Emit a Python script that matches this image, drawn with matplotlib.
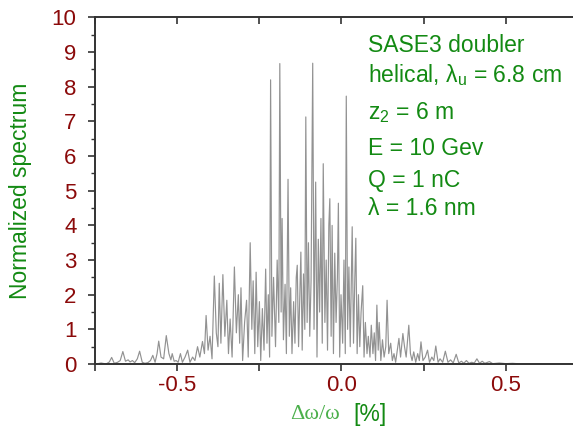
import matplotlib.pyplot as plt
from matplotlib.ticker import MultipleLocator, FuncFormatter
import numpy as np

plt.rcParams['font.family'] = ['Liberation Sans', 'DejaVu Sans']
plt.rcParams['mathtext.fontset'] = 'custom'
plt.rcParams['mathtext.rm'] = 'Liberation Sans'
plt.rcParams['mathtext.it'] = 'Liberation Sans:italic'

# spectrum (delta omega / omega in %, normalized spectrum)
#---------------------------------------------------------------------------
dw = [-0.745, -0.73, -0.715, -0.705, -0.698, -0.69, -0.68, -0.672, -0.664, -0.656,
      -0.648, -0.642, -0.635, -0.628, -0.62, -0.613, -0.605, -0.597, -0.588, -0.58,
      -0.573, -0.566, -0.56, -0.555, -0.548, -0.54, -0.532, -0.524, -0.518, -0.514,
      -0.508, -0.502, -0.496, -0.489, -0.483, -0.475, -0.467, -0.46, -0.452, -0.445,
      -0.437, -0.43, -0.422, -0.416, -0.411, -0.405, -0.399, -0.393, -0.386, -0.38,
      -0.375, -0.371, -0.366, -0.36, -0.354, -0.348, -0.343, -0.338, -0.332, -0.325,
      -0.319, -0.313, -0.309, -0.305, -0.3, -0.294, -0.288, -0.283, -0.277, -0.272,
      -0.268, -0.263, -0.259, -0.254, -0.249, -0.245, -0.24, -0.235, -0.23, -0.226,
      -0.222, -0.218, -0.215, -0.211, -0.206, -0.2, -0.195, -0.19, -0.187, -0.183,
      -0.18, -0.176, -0.171, -0.167, -0.162, -0.158, -0.154, -0.15, -0.145, -0.141,
      -0.137, -0.134, -0.13, -0.126, -0.123, -0.119, -0.115, -0.111, -0.108, -0.104,
      -0.1, -0.096, -0.092, -0.087, -0.083, -0.078, -0.074, -0.07, -0.066, -0.062,
      -0.058, -0.055, -0.05, -0.046, -0.042, -0.038, -0.035, -0.031, -0.028, -0.024,
      -0.02, -0.016, -0.012, -0.009, -0.005, -0.001, 0.004, 0.008, 0.012, 0.015,
      0.019, 0.023, 0.027, 0.033, 0.037, 0.041, 0.044, 0.048, 0.052, 0.056,
      0.06, 0.065, 0.069, 0.073, 0.078, 0.082, 0.087, 0.091, 0.096, 0.1,
      0.104, 0.108, 0.112, 0.115, 0.12, 0.125, 0.13, 0.135, 0.139, 0.144,
      0.15, 0.155, 0.16, 0.165, 0.17, 0.175, 0.18, 0.187, 0.192, 0.197,
      0.205, 0.21, 0.215, 0.22, 0.226, 0.232, 0.237, 0.242, 0.248, 0.255,
      0.262, 0.268, 0.275, 0.281, 0.287, 0.294, 0.3, 0.308, 0.316, 0.324,
      0.332, 0.34, 0.349, 0.357, 0.365, 0.372, 0.38, 0.388, 0.396, 0.404,
      0.412, 0.42, 0.428, 0.436, 0.45, 0.46, 0.48, 0.5, 0.52, 0.55,
      0.6, 0.65, 0.7]
spec = [0.0, 0.03, 0.0, 0.06, 0.19, 0.02, 0.05, 0.1, 0.36, 0.08,
        0.12, 0.06, 0.1, 0.04, 0.15, 0.37, 0.05, 0.02, 0.04, 0.1,
        0.25, 0.05, 0.3, 0.66, 0.2, 0.15, 0.82, 0.3, 0.12, 0.3,
        0.08, 0.1, 0.05, 0.3, 0.05, 0.2, 0.4, 0.05, 0.2, 0.1,
        0.5, 0.2, 0.65, 0.3, 1.4, 0.4, 0.8, 0.15, 2.54, 0.9,
        0.5, 2.33, 0.6, 2.58, 0.8, 1.84, 0.3, 1.3, 0.2, 2.8,
        0.9, 2.0, 0.6, 2.2, 0.1, 1.2, 1.84, 0.2, 3.5, 1.0,
        2.4, 0.3, 2.65, 0.5, 1.8, 0.1, 1.6, 0.4, 2.74, 0.6,
        2.0, 0.2, 8.2, 0.8, 2.5, 0.5, 3.0, 1.2, 8.67, 1.5,
        4.2, 0.7, 2.3, 0.3, 5.33, 0.8, 2.2, 0.3, 1.8, 0.6,
        2.5, 2.85, 0.5, 2.0, 3.23, 0.4, 2.6, 1.0, 7.13, 1.2,
        3.5, 0.8, 2.4, 8.68, 1.0, 5.25, 0.2, 3.6, 1.5, 4.2,
        0.6, 5.78, 1.2, 3.0, 0.4, 4.0, 4.77, 0.8, 4.0, 0.3,
        3.2, 1.2, 2.5, 4.64, 0.2, 2.0, 0.6, 3.0, 0.3, 7.73,
        1.0, 2.8, 0.5, 3.96, 0.6, 2.5, 3.63, 0.3, 2.0, 0.5,
        1.5, 2.26, 0.2, 1.2, 0.3, 0.8, 0.2, 1.12, 0.3, 0.9,
        0.1, 1.7, 0.4, 1.2, 0.1, 0.7, 0.2, 0.5, 1.84, 0.3,
        0.6, 0.1, 0.3, 0.05, 0.4, 0.74, 0.2, 0.88, 0.5, 0.2,
        1.12, 0.3, 0.1, 0.35, 0.05, 0.3, 0.1, 0.64, 0.1, 0.2,
        0.4, 0.05, 0.2, 0.1, 0.52, 0.05, 0.15, 0.05, 0.37, 0.05,
        0.12, 0.03, 0.28, 0.03, 0.08, 0.02, 0.1, 0.02, 0.05, 0.03,
        0.15, 0.02, 0.08, 0.02, 0.07, 0.01, 0.03, 0.01, 0.02, 0.0,
        0.01, 0.0, 0.01]

info_lines = ['SASE3 doubler',
              r'helical, λ$_\mathregular{u}$ = 6.8 cm',
              r'z$_\mathregular{2}$ = 6 m',
              'E = 10 Gev',
              'Q = 1 nC',
              'λ = 1.6 nm']
info_y = [9.19, 8.33, 7.26, 6.22, 5.30, 4.50]

red = '#8b0a0a'
green = '#138a13'

fig = plt.figure(figsize=(5.73, 4.26), dpi=100)
ax = fig.add_axes([0.165, 0.1455, 0.835, 0.8135])
ax.plot(dw, spec, color='#929292', lw=0.85)

ax.set_xlim(-0.75, 0.704)
ax.set_ylim(0, 10)

ax.spines['right'].set_visible(False)
for s in ['left', 'bottom', 'top']:
    ax.spines[s].set_color('#333333')
    ax.spines[s].set_linewidth(1.4)

ax.xaxis.set_major_locator(MultipleLocator(0.25))
ax.xaxis.set_major_formatter(FuncFormatter(
    lambda v, p: '%.1f' % v if abs(v * 2 - round(v * 2)) < 1e-6 else ''))
ax.yaxis.set_major_locator(MultipleLocator(1))
ax.yaxis.set_minor_locator(MultipleLocator(0.5))

ax.tick_params(axis='x', which='major', direction='out', length=5, width=1.2,
               color='#333333', labelcolor=red, labelsize=16, pad=3, top=True)
ax.tick_params(axis='y', which='major', direction='out', length=5, width=1.2,
               color='#333333', labelcolor=red, labelsize=16, pad=8)
ax.tick_params(axis='y', which='minor', direction='out', length=3, width=1.0,
               color='#333333')
# top ticks point inward
for t in ax.xaxis.get_major_ticks():
    t.tick2line.set_marker(3)

ax.set_ylabel('Normalized spectrum', color=green, fontsize=16.5, labelpad=14)

# x label: greek part in a serif face, unit part in sans
ax.text(0.513, -0.145, 'Δω/ω', transform=ax.transAxes,
        color='#4cb04c', fontsize=16, ha='right', va='center',
        family=['Liberation Serif', 'DejaVu Serif'])
ax.text(0.542, -0.145, '[%]', transform=ax.transAxes,
        color=green, fontsize=16.5, ha='left', va='center')

for line, yy in zip(info_lines, info_y):
    ax.text(0.08, yy, line, color=green, fontsize=16.5, ha='left', va='center')

plt.savefig('out.png', dpi=100)
